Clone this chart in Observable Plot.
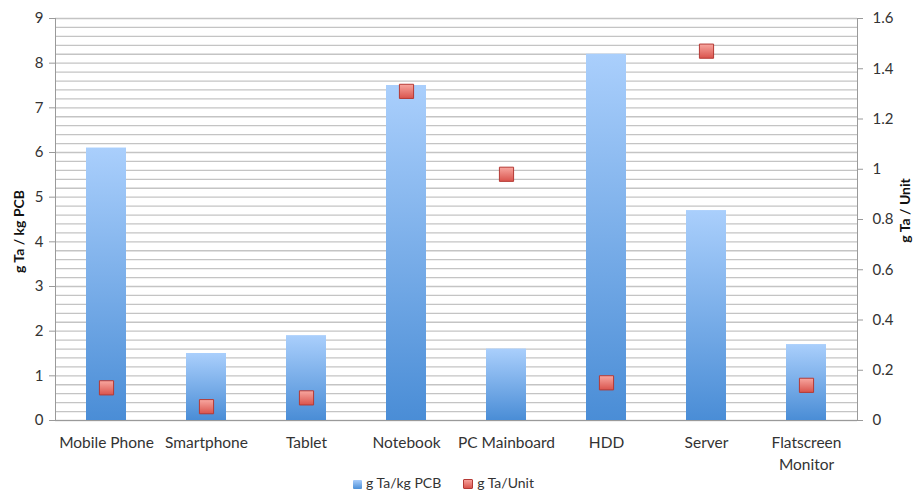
<!DOCTYPE html>
<html>
<head>
<meta charset="utf-8">
<script src="https://cdn.jsdelivr.net/npm/d3@7"></script>
<script src="https://cdn.jsdelivr.net/npm/@observablehq/plot@0.6"></script>
<style>
  body { margin: 0; background: #fff; font-family: Lato, "Open Sans", sans-serif; }
  #legend { display: flex; justify-content: center; gap: 22px; font-size: 14px; color: #333; height: 21px; align-items: center; padding-right: 34px; }
  #legend span.sw { display: inline-block; width: 9px; height: 9px; margin-right: 4px; vertical-align: -1px; border-radius: 1px; }
</style>
</head>
<body>
<div id="chart"></div>
<div id="legend">
  <div><span class="sw" style="background:linear-gradient(#a9cdfb,#4a8fd8)"></span>g Ta/kg PCB</div>
  <div><span class="sw" style="background:linear-gradient(#f7a09a,#d9544d);border:1px solid #b53a35;width:8px;height:8px"></span>g Ta/Unit</div>
</div>
<script>
const categories = ["Mobile Phone", "Smartphone", "Tablet", "Notebook", "PC Mainboard", "HDD", "Server", "Flatscreen Monitor"];
const perKgPCB = [6.1, 1.5, 1.9, 7.5, 1.6, 8.2, 4.7, 1.7];
const perUnit = [0.13, 0.055, 0.09, 1.31, 0.98, 0.15, 1.47, 0.14];
const leftTicks = [0, 1, 2, 3, 4, 5, 6, 7, 8, 9];
const rightTicks = [0, 0.2, 0.4, 0.6, 0.8, 1, 1.2, 1.4, 1.6];
const leftMax = 9, rightMax = 1.6;
const k = leftMax / rightMax;

const rows = categories.map((c, i) => ({cat: c, bar: perKgPCB[i], unit: perUnit[i], unitScaled: perUnit[i] * k}));
const gridVals = d3.range(0, 45.5, 1).map(i => i * 0.2);

const svg = Plot.plot({
  width: 921,
  height: 472,
  marginLeft: 55,
  marginRight: 64,
  marginTop: 18,
  marginBottom: 52,
  style: {fontFamily: "Lato, 'Open Sans', sans-serif", fontSize: "15px", color: "#333", background: "#fff"},
  x: {domain: categories, paddingInner: 0.6, paddingOuter: 0.3, label: null},
  y: {domain: [0, leftMax], label: null},
  marks: [
    Plot.ruleY(gridVals, {stroke: "#c4c4c4", strokeWidth: 1.3}),
    Plot.barY(rows, {x: "cat", y: "bar", fill: "url(#barGrad)"}),
    Plot.frame({anchor: "left", stroke: "#9a9a9a"}),
    Plot.frame({anchor: "right", stroke: "#9a9a9a"}),
    Plot.frame({anchor: "bottom", stroke: "#9a9a9a"}),
    Plot.axisY({anchor: "left", ticks: leftTicks, tickSize: 6, tickPadding: 6, fontSize: 15, stroke: "#9a9a9a", label: null}),
    Plot.axisY({anchor: "right", ticks: rightTicks.map(v => v * k), tickSize: 5, tickPadding: 10,
      tickFormat: d => String(+(d / k).toFixed(1)), fontSize: 15, stroke: "#9a9a9a", label: null}),
    Plot.axisX({tickSize: 0, tickPadding: 12, fontSize: 15.5, lineHeight: 1.4, label: null,
      tickFormat: d => d === "Flatscreen Monitor" ? "Flatscreen\nMonitor" : d}),
    Plot.dot(rows, {x: "cat", y: "unitScaled", symbol: "square", r: 8, fill: "url(#dotGrad)", stroke: "#b53a35", strokeWidth: 1}),
    Plot.text(["g Ta / kg PCB"], {frameAnchor: "left", textAnchor: "middle", dx: -36, dy: 12, rotate: -90, fontWeight: "bold", fontSize: 14, fill: "#111"}),
    Plot.text(["g Ta / Unit"], {frameAnchor: "right", textAnchor: "middle", dx: 48, dy: -9, rotate: -90, fontWeight: "bold", fontSize: 14, fill: "#111"})
  ]
});

const defs = d3.select(svg).insert("defs", ":first-child");
const g1 = defs.append("linearGradient").attr("id", "barGrad").attr("x1", 0).attr("y1", 0).attr("x2", 0).attr("y2", 1);
g1.append("stop").attr("offset", "0%").attr("stop-color", "#aacffc");
g1.append("stop").attr("offset", "100%").attr("stop-color", "#4a8dd6");
const g2 = defs.append("linearGradient").attr("id", "dotGrad").attr("x1", 0).attr("y1", 0).attr("x2", 0).attr("y2", 1);
g2.append("stop").attr("offset", "0%").attr("stop-color", "#f8a7a0");
g2.append("stop").attr("offset", "100%").attr("stop-color", "#d9534c");

document.getElementById("chart").appendChild(svg);
</script>
</body>
</html>
